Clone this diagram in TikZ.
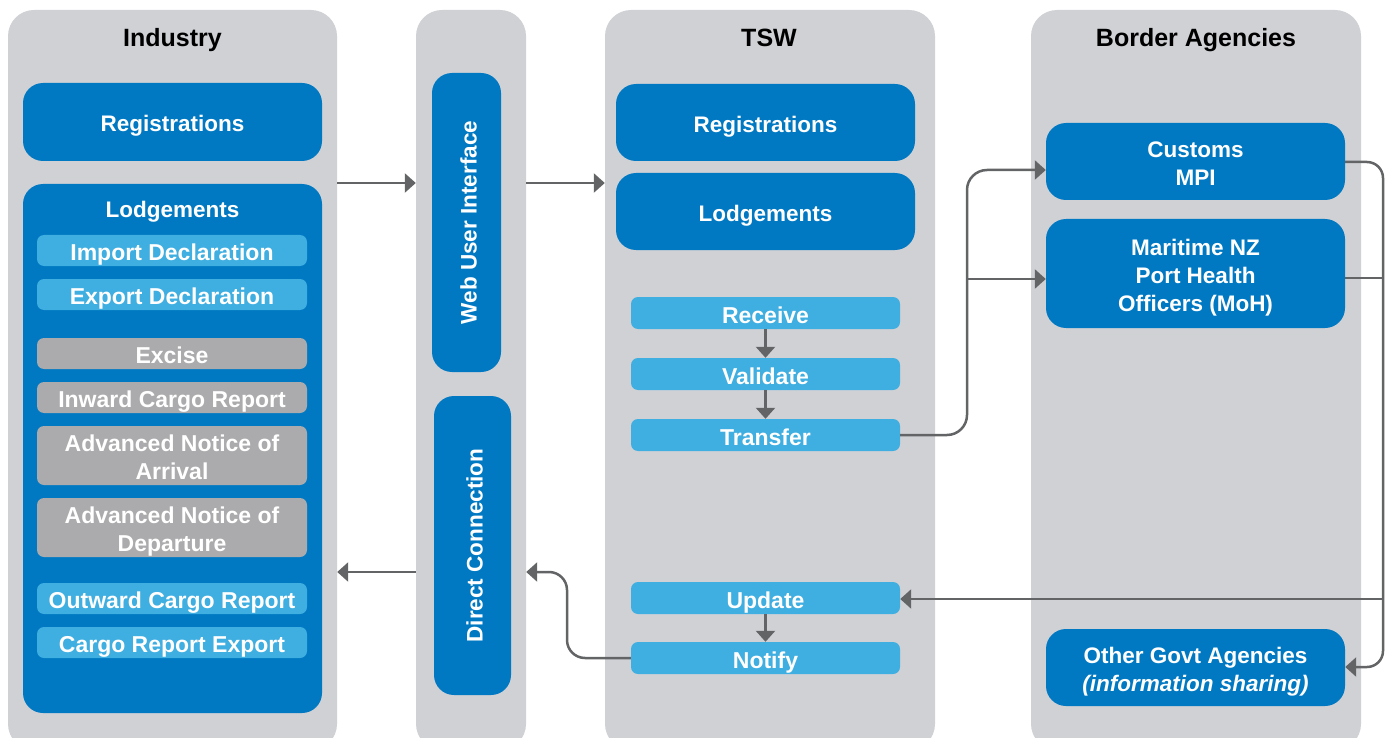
\documentclass[tikz,border=0pt]{standalone}
\usepackage{fontspec}
\setmainfont{Liberation Sans}
\usetikzlibrary{arrows.meta}
\usetikzlibrary{positioning}

\definecolor{lanegray}{HTML}{D0D1D5}
\definecolor{darkblue}{HTML}{0079C2}
\definecolor{lightblue}{HTML}{3FAEE0}
\definecolor{subgray}{HTML}{ABAAAC}
\definecolor{arrowgray}{HTML}{636466}

\begin{document}
\begin{tikzpicture}
	[x=1pt,y=-1pt,
	every node/.style={font=\bfseries\fontsize{22.5}{28}\selectfont,text=white,align=center,inner sep=0pt,text height=20pt,text depth=0pt},
	twoline/.style={text height=48pt},
	threeline/.style={text height=76pt},
	lane/.style={fill=lanegray,rounded corners=26pt,minimum height=740pt},
	lanetitle/.style={text=black,font=\bfseries\fontsize{25}{28}\selectfont},
	bigbox/.style={fill=darkblue,rounded corners=20pt,minimum width=299pt},
	subbox/.style={fill=lightblue,rounded corners=7pt,minimum width=270pt,minimum height=31pt,font=\bfseries\fontsize{23}{28}\selectfont},
	greybox/.style={subbox,fill=subgray},
	stepbox/.style={subbox,minimum width=269pt,minimum height=32pt},
	sidebox/.style={fill=darkblue,rounded corners=20pt,rotate=90,minimum width=299pt},
	line/.style={draw=arrowgray,line width=2.5pt},
	conn/.style={line,-{Triangle[length=11pt,width=19pt]}}]
	\useasboundingbox (0,0) rectangle (1392,738);
	\clip (0,0) rectangle (1392,738);
	% lanes
	\node[lane,minimum width=329pt] (industry) at (172.5,380) {};
	\node[lane,minimum width=110pt] (webcol) at (471,380) {};
	\node[lane,minimum width=330pt] (tsw) at (770,380) {};
	\node[lane,minimum width=330pt] (border) at (1196,380) {};
	\node[lanetitle] (tindustry) at (172.5,37) {Industry};
	\node[lanetitle] (ttsw) at (769,37) {TSW};
	\node[lanetitle] (tborder) at (1196,37) {Border Agencies};
	
	% industry
	\node[bigbox,minimum height=78pt] (ireg) at (172.5,122) {Registrations};
	\node[bigbox,minimum height=529pt] (ilodge) at (172.5,448.5) {};
	\node (ilodgelbl) at (172.5,208) {Lodgements};
	\node[subbox] (import) at (172,250.5) {Import Declaration};
	\node[subbox] (export) at (172,294.5) {Export Declaration};
	\node[greybox] (excise) at (172,353.5) {Excise};
	\node[greybox] (inward) at (172,397.5) {Inward Cargo Report};
	\node[greybox,twoline,minimum height=59pt] (arrival) at (172,455.5) {Advanced Notice of\\Arrival};
	\node[greybox,twoline,minimum height=59pt] (departure) at (172,527.5) {Advanced Notice of\\Departure};
	\node[subbox] (outward) at (172,598.5) {Outward Cargo Report};
	\node[subbox] (cargoexp) at (172,642.5) {Cargo Report Export};
	
	% interfaces
	\node[sidebox,minimum height=69pt] (webui) at (466.5,222.5) {Web User Interface};
	\node[sidebox,minimum height=77pt] (direct) at (472.5,545.5) {Direct Connection};
	
	% tsw
	\node[bigbox,minimum height=77pt] (treg) at (765.5,122.5) {Registrations};
	\node[bigbox,minimum height=77pt] (tlodge) at (765.5,211.5) {Lodgements};
	\node[stepbox] (receive) at (765.5,313) {Receive};
	\node[stepbox] (validate) at (765.5,374) {Validate};
	\node[stepbox] (transfer) at (765.5,435) {Transfer};
	\node[stepbox] (update) at (765.5,598) {Update};
	\node[stepbox] (notify) at (765.5,658) {Notify};
	
	% border agencies
	\node[bigbox,twoline,minimum height=77pt] (customs) at (1195.5,161.5) {Customs\\MPI};
	\node[bigbox,threeline,minimum height=109pt] (maritime) at (1195.5,273.5) {Maritime NZ\\Port Health\\Officers (MoH)};
	\node[bigbox,twoline,minimum height=77pt] (other) at (1195.5,667.5) {Other Govt Agencies\\\textit{(information sharing)}};
	
	% connectors
	\draw[conn] (industry.east |- 0,183) -- (webcol.west |- 0,183);
	\draw[conn] (webcol.east |- 0,183) -- (tsw.west |- 0,183);
	\foreach \from/\to in {receive/validate, validate/transfer, update/notify}
	\draw[conn] (\from) -- (\to);
	\draw[conn,rounded corners=20pt] (transfer.east) -| (967,170) -- (customs.west |- 0,170);
	\draw[conn] (967,279) -- (maritime.west |- 0,279);
	\draw[conn,rounded corners=16pt] (customs.east |- 0,162) -| (1383,667) -- (other.east |- 0,667);
	\draw[line] (maritime.east |- 0,278) -- (1383,278);
	\draw[conn] (1383,599) -- (update.east |- 0,599);
	\draw[conn,rounded corners=18pt] (notify.west) -| (567,572) -- (webcol.east |- 0,572);
	\draw[conn] (webcol.west |- 0,572) -- (industry.east |- 0,572);
\end{tikzpicture}
\end{document}
